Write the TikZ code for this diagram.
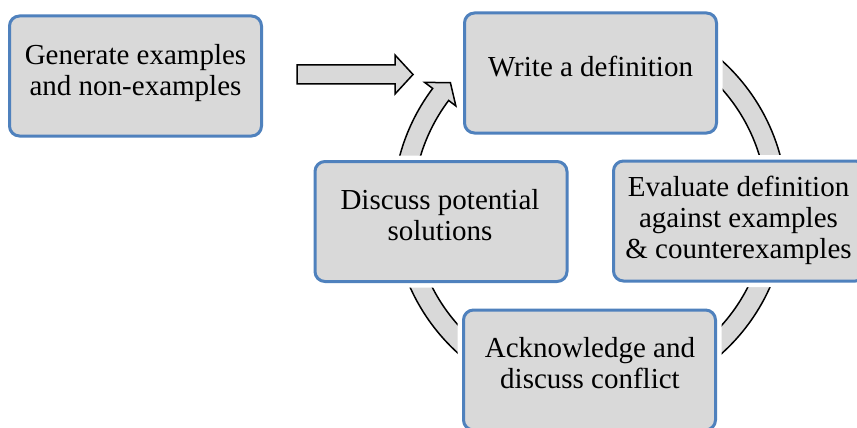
\documentclass[tikz,border=0pt]{standalone}
\usepackage{fontspec}
\setmainfont{Liberation Serif}
\definecolor{boxblue}{RGB}{79,129,189}
\definecolor{boxgray}{RGB}{217,217,217}
\newcommand\cycarrow[2]{%
  \draw[ring] ([shift={(#1:197)}]c) arc[start angle=#1, end angle=#2, radius=197]
    -- ([shift={(#2:207)}]c) -- ([shift={(#2-4.7:187)}]c) -- ([shift={(#2:168)}]c)
    -- ([shift={(#2:177)}]c) arc[start angle=#2, end angle=#1, radius=177] -- cycle;}
\begin{document}
\begin{tikzpicture}[x=1pt,y=1pt,
  box/.style={rectangle, rounded corners=10pt, draw=boxblue, line width=3pt, fill=boxgray,
    minimum width=252pt, minimum height=120pt, inner sep=0pt},
  halo/.style={rectangle, rounded corners=10pt, draw=white, line width=12pt,
    minimum width=252pt, minimum height=120pt, inner sep=0pt},
  txt/.style={anchor=north, inner sep=0pt, align=center, font=\fontsize{29}{31}\selectfont},
  ring/.style={fill=boxgray, draw=black, line width=1.5pt, line join=miter}]
\useasboundingbox (0,0) rectangle (857,-428);
\fill[white] (0,0) rectangle (857,-428);
\clip (0,0) rectangle (857,-428);
\coordinate (c) at (590,-207);
% cycle arrows
\cycarrow{75}{10}
\cycarrow{-10}{-57}
\cycarrow{-120}{-167}
\cycarrow{190}{143}
% block arrow
\coordinate (ba) at (297,-74.5);
\draw[ring] (ba) ++(0,9.5) -- ++(98,0) -- ++(0,10) -- (413,-74.5) -- (395,-94) -- ++(0,10) -- ++(-98,0) -- cycle;
% halos
\foreach \p in {(135.5,-76),(590.5,-73),(739.5,-221),(441,-221.5),(589.5,-370)}
  \node[halo] at \p {};
% boxes
\node[box] (gen) at (135.5,-76) {};
\node[box] (write) at (590.5,-73) {};
\node[box] (eval) at (739.5,-221) {};
\node[box] (disc) at (441,-221.5) {};
\node[box] (ack) at (589.5,-370) {};
% texts
\node[txt] (gent) at (135.5,-44) {Generate examples\\and non-examples};
\node[txt] (writet) at (590.5,-56) {Write a definition};
\node[txt] (evalt) at (738.5,-176) {Evaluate definition\\against examples\\\& counterexamples};
\node[txt] (disct) at (440,-189) {Discuss potential\\solutions};
\node[txt] (ackt) at (590,-337) {Acknowledge and\\discuss conflict};
\end{tikzpicture}
\end{document}
